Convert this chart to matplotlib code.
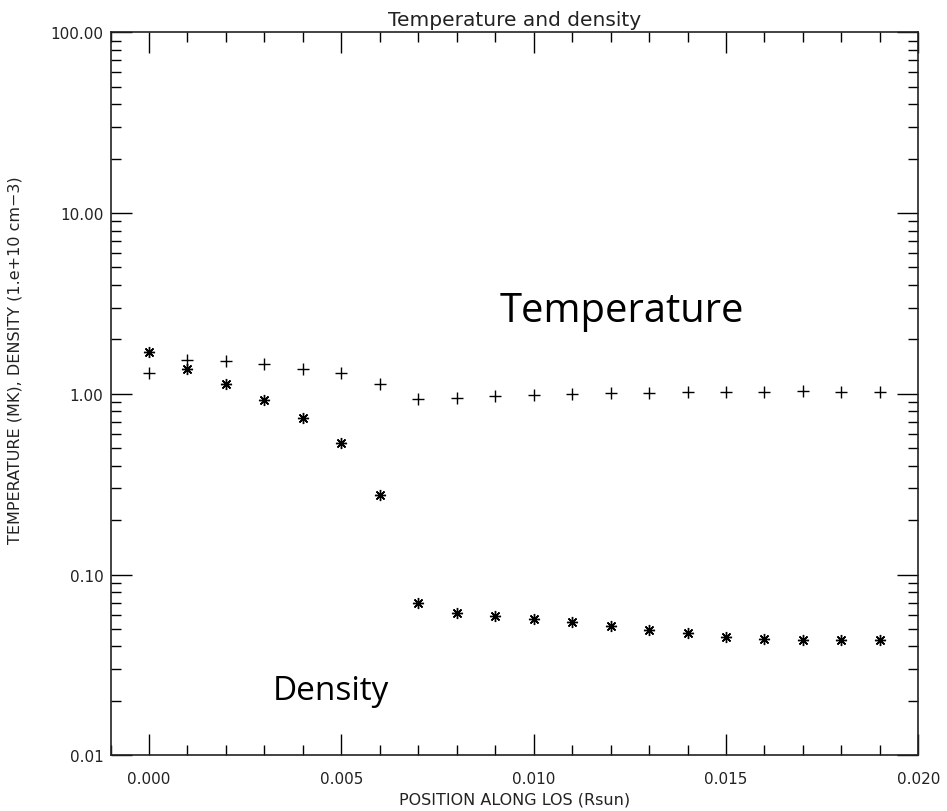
import numpy as np
import matplotlib
matplotlib.use("Agg")
import matplotlib.pyplot as plt
from matplotlib.ticker import FixedLocator, LogLocator, NullFormatter, MultipleLocator

position = [0.000, 0.001, 0.002, 0.003, 0.004, 0.005, 0.006, 0.007, 0.008, 0.009,
            0.010, 0.011, 0.012, 0.013, 0.014, 0.015, 0.016, 0.017, 0.018, 0.019]
temperature = [1.31, 1.53, 1.52, 1.46, 1.38, 1.30, 1.14, 0.94, 0.95, 0.97,
               0.985, 1.00, 1.01, 1.01, 1.027, 1.023, 1.023, 1.04, 1.023, 1.023]
density = [1.70, 1.38, 1.14, 0.928, 0.735, 0.532, 0.276, 0.0699, 0.0613, 0.0592,
           0.0570, 0.0544, 0.0519, 0.0495, 0.0477, 0.0453, 0.0440, 0.0436, 0.0436, 0.0436]
ytick_vals = [0.01, 0.1, 1.0, 10.0, 100.0]
ytick_labels = ["0.01", "0.10", "1.00", "10.00", "100.00"]
xtick_vals = [0.000, 0.005, 0.010, 0.015, 0.020]
xtick_labels = ["0.000", "0.005", "0.010", "0.015", "0.020"]

W, H = 947, 812
fig = plt.figure(figsize=(W/100, H/100), dpi=100)
ax = fig.add_axes([110.5/W, 1-756.3/H, (918.3-110.5)/W, (756.3-33.3)/H])

ax.set_yscale("log")
ax.set_xlim(-0.001, 0.020)
ax.set_ylim(0.01, 100)

ax.plot(position, temperature, linestyle="none", marker="+", color="black",
        markersize=8, markeredgewidth=1.0)
ax.plot(position, density, linestyle="none", marker=(8, 2, 0), color="black",
        markersize=8, markeredgewidth=1.0)

ax.xaxis.set_major_locator(FixedLocator(xtick_vals))
ax.set_xticklabels(xtick_labels)
ax.xaxis.set_minor_locator(MultipleLocator(0.001))
ax.yaxis.set_major_locator(FixedLocator(ytick_vals))
ax.set_yticklabels(ytick_labels)
ax.yaxis.set_minor_locator(LogLocator(base=10, subs=np.arange(2, 10)))
ax.yaxis.set_minor_formatter(NullFormatter())

ax.tick_params(which="both", direction="in", top=True, right=True, color="black",
               labelsize=11, labelcolor="#222222")
ax.tick_params(which="major", length=15, width=1.0)
ax.tick_params(which="minor", length=7, width=1.0)
ax.tick_params(axis="x", which="major", pad=11)
ax.tick_params(axis="y", which="major", pad=5)
for s in ax.spines.values():
    s.set_linewidth(1.2)
    s.set_color("#222222")

ax.set_title("Temperature and density", fontsize=14.5, color="#222222", pad=5)
ax.set_xlabel("POSITION ALONG LOS (Rsun)", fontsize=11.5, color="#222222", labelpad=4)
ax.set_ylabel("TEMPERATURE (MK), DENSITY (1.e+10 cm\u22123)", fontsize=11.5,
              color="#222222")
ax.yaxis.set_label_coords((23-110.5)/(918.3-110.5), (756.3-360)/(756.3-33.3))

fig.text(500/W, 1-321.7/H, "Temperature", fontsize=28.8, family="Open Sans",
         color="black", va="baseline", ha="left")
fig.text(273/W, 1-700/H, "Density", fontsize=24, family="Open Sans",
         color="black", va="baseline", ha="left")

fig.savefig("out.png", dpi=100)
